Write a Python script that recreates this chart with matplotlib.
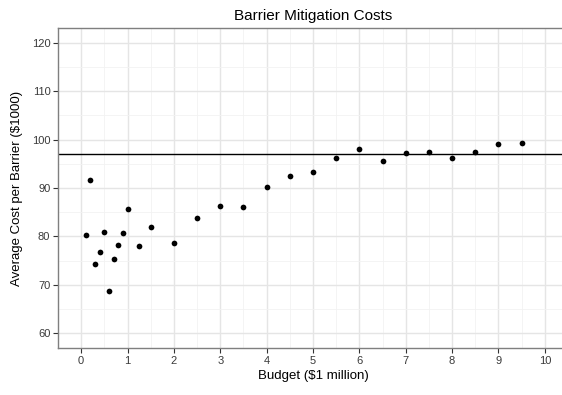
import matplotlib.pyplot as plt
import numpy as np

plt.rcParams['font.family'] = ['Liberation Sans', 'DejaVu Sans']

# budget in $1 million, average cost per barrier in $1000
budget = [0.1, 0.2, 0.3, 0.4, 0.5, 0.6, 0.7, 0.8, 0.9, 1.0,
          1.25, 1.5, 2.0, 2.5, 3.0, 3.5, 4.0, 4.5, 5.0, 5.5,
          6.0, 6.5, 7.0, 7.5, 8.0, 8.5, 9.0, 9.5]
avg_cost = [80.3, 91.6, 74.3, 76.7, 80.9, 68.8, 75.4, 78.3, 80.7, 85.7,
            78.0, 82.0, 78.6, 83.9, 86.3, 86.0, 90.3, 92.4, 93.2, 96.1,
            98.0, 95.6, 97.2, 97.4, 96.1, 97.4, 99.1, 99.3]
hline_value = 97.0

fig = plt.figure(figsize=(5.62, 3.95), dpi=100)
ax = fig.add_axes([58/562, 1-348/395, 510/562, 320/395])

ax.scatter(budget, avg_cost, s=17, color='black', zorder=3, linewidths=0)
ax.axhline(hline_value, color='black', linewidth=1.0, zorder=2)

ax.set_xlim(-0.5, 10.5)
ax.set_ylim(57, 123)
ax.set_xticks(np.arange(0, 11, 1))
ax.set_yticks(np.arange(60, 121, 10))
ax.set_xticks(np.arange(0.5, 10, 1), minor=True)
ax.set_yticks(np.arange(65, 121, 10), minor=True)
ax.grid(which='major', color='#E5E5E5', linewidth=1.0)
ax.grid(which='minor', color='#F2F2F2', linewidth=0.6)
ax.set_axisbelow(True)
ax.tick_params(which='minor', length=0)
ax.tick_params(which='major', length=3.5, width=0.8, color='#333333',
               labelsize=8, labelcolor='#3A3A3A', pad=2)
for sp in ax.spines.values():
    sp.set_color('#7F7F7F')
    sp.set_linewidth(1.0)

ax.set_title('Barrier Mitigation Costs', fontsize=11, pad=6)
ax.set_xlabel('Budget ($1 million)', fontsize=9.5, labelpad=3)
ax.set_ylabel('Average Cost per Barrier ($1000)', fontsize=9.5, labelpad=6)

fig.savefig('out.png', dpi=100)
